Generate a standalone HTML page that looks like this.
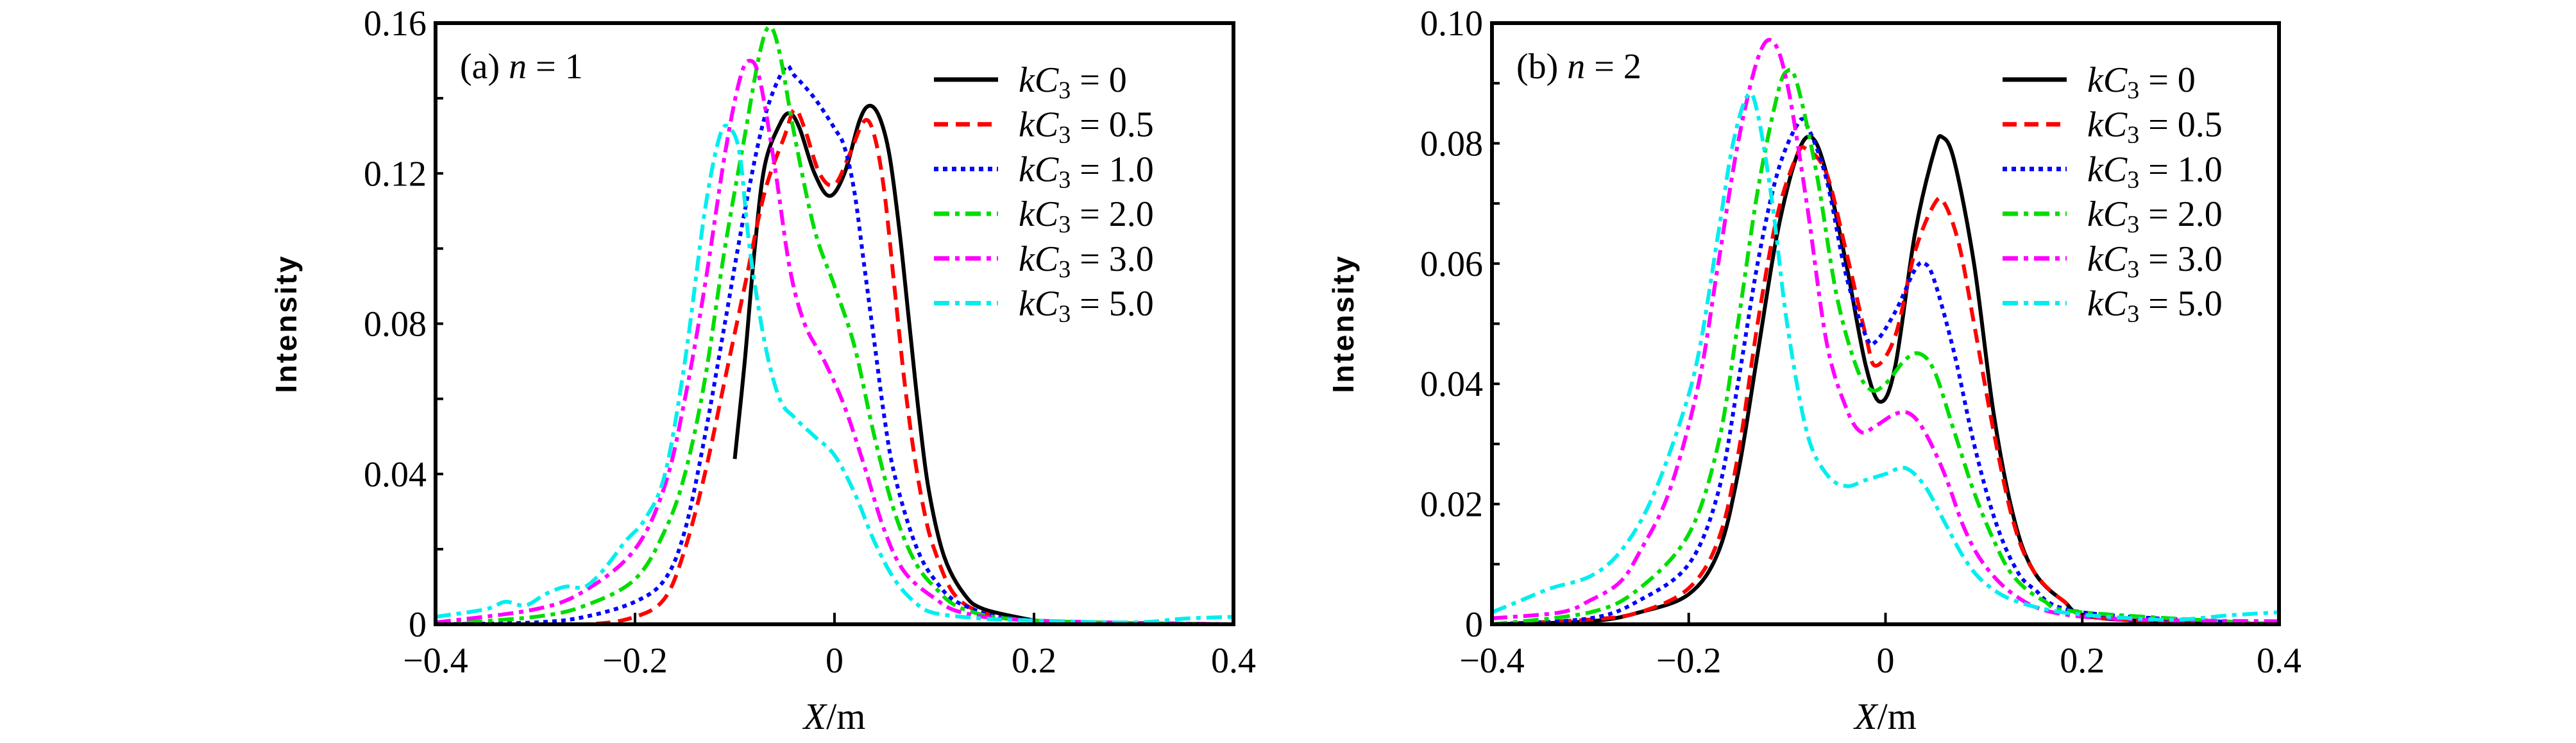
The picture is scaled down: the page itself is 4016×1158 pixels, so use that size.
<!DOCTYPE html>
<html><head><meta charset="utf-8"><style>
html,body{margin:0;padding:0;background:#fff;}
svg{display:block;}
text{font-family:"Liberation Serif",serif;fill:#000;}
</style></head><body>
<svg id="chart" width="4016" height="1158" viewBox="0 0 4016 1158" xmlns="http://www.w3.org/2000/svg"></svg>
<script>
const seriesLabels=["0","0.5","1.0","2.0","3.0","5.0"];
const xTicks=[-0.4,-0.2,0,0.2,0.4];
const yTicksA=[0,0.04,0.08,0.12,0.16];
const yTicksB=[0,0.02,0.04,0.06,0.08,0.10];
const a0=[[-0.1,0.044],[-0.09,0.07],[-0.08,0.1],[-0.07,0.122],[-0.055,0.133],[-0.045,0.136],[-0.035,0.132],[-0.02,0.12],[-0.005,0.114],[0.01,0.12],[0.025,0.134],[0.035,0.138],[0.045,0.135],[0.055,0.125],[0.065,0.105],[0.075,0.08],[0.085,0.055],[0.095,0.035],[0.11,0.018],[0.13,0.008],[0.15,0.004],[0.2,0.001]];
const a1=[[-0.37,0],[-0.25,0],[-0.2,0.002],[-0.17,0.007],[-0.15,0.02],[-0.13,0.04],[-0.11,0.065],[-0.09,0.09],[-0.07,0.115],[-0.05,0.13],[-0.04,0.137],[-0.03,0.132],[-0.015,0.12],[0,0.117],[0.015,0.125],[0.03,0.134],[0.04,0.13],[0.05,0.115],[0.06,0.09],[0.07,0.065],[0.08,0.045],[0.09,0.03],[0.1,0.02],[0.12,0.008],[0.15,0.003],[0.2,0.001],[0.37,0]];
const a2=[[-0.4,0],[-0.3,0.0005],[-0.25,0.002],[-0.2,0.006],[-0.17,0.012],[-0.15,0.025],[-0.13,0.05],[-0.11,0.08],[-0.09,0.11],[-0.07,0.135],[-0.05,0.148],[-0.04,0.146],[-0.02,0.14],[0,0.132],[0.01,0.127],[0.02,0.115],[0.03,0.095],[0.04,0.075],[0.05,0.055],[0.06,0.04],[0.08,0.022],[0.1,0.012],[0.13,0.005],[0.2,0.001],[0.4,0]];
const a3=[[-0.4,0],[-0.3,0.002],[-0.25,0.005],[-0.2,0.012],[-0.17,0.025],[-0.15,0.04],[-0.13,0.065],[-0.11,0.1],[-0.09,0.13],[-0.075,0.152],[-0.065,0.159],[-0.055,0.152],[-0.04,0.13],[-0.02,0.105],[0,0.09],[0.02,0.074],[0.04,0.05],[0.06,0.03],[0.08,0.017],[0.1,0.01],[0.13,0.004],[0.2,0.001],[0.4,0]];
const a4=[[-0.4,0.0005],[-0.3,0.004],[-0.25,0.009],[-0.2,0.02],[-0.17,0.037],[-0.15,0.06],[-0.13,0.09],[-0.11,0.125],[-0.095,0.145],[-0.085,0.15],[-0.075,0.145],[-0.06,0.122],[-0.045,0.095],[-0.03,0.08],[-0.01,0.07],[0.01,0.058],[0.03,0.042],[0.05,0.025],[0.07,0.014],[0.1,0.007],[0.13,0.003],[0.2,0.001],[0.4,0]];
const a5=[[-0.4,0.002],[-0.35,0.004],[-0.33,0.006],[-0.31,0.005],[-0.29,0.008],[-0.27,0.01],[-0.25,0.01],[-0.23,0.015],[-0.21,0.022],[-0.19,0.028],[-0.17,0.04],[-0.15,0.07],[-0.13,0.11],[-0.115,0.13],[-0.105,0.132],[-0.095,0.125],[-0.085,0.1],[-0.07,0.075],[-0.055,0.06],[-0.04,0.055],[-0.02,0.05],[0,0.045],[0.02,0.035],[0.04,0.022],[0.06,0.012],[0.08,0.006],[0.1,0.003],[0.15,0.0015],[0.2,0.001],[0.3,0.0005],[0.35,0.0015],[0.4,0.002]];
const b0=[[-0.4,0],[-0.3,0.0005],[-0.25,0.002],[-0.2,0.005],[-0.17,0.012],[-0.15,0.025],[-0.13,0.045],[-0.11,0.065],[-0.09,0.078],[-0.075,0.081],[-0.06,0.075],[-0.04,0.06],[-0.02,0.043],[-0.005,0.037],[0.01,0.043],[0.03,0.065],[0.05,0.079],[0.058,0.081],[0.07,0.077],[0.09,0.06],[0.11,0.035],[0.13,0.018],[0.15,0.009],[0.18,0.004],[0.22,0.001],[0.4,0]];
const b1=[[-0.4,0],[-0.3,0.0008],[-0.25,0.002],[-0.2,0.006],[-0.17,0.014],[-0.15,0.028],[-0.13,0.05],[-0.11,0.068],[-0.09,0.078],[-0.08,0.079],[-0.06,0.075],[-0.04,0.062],[-0.02,0.048],[-0.01,0.043],[0.01,0.048],[0.03,0.062],[0.05,0.07],[0.06,0.07],[0.075,0.063],[0.09,0.05],[0.11,0.032],[0.13,0.017],[0.15,0.009],[0.18,0.004],[0.22,0.001],[0.4,0]];
const b2=[[-0.4,0],[-0.3,0.001],[-0.25,0.004],[-0.2,0.01],[-0.17,0.022],[-0.15,0.04],[-0.13,0.06],[-0.11,0.075],[-0.09,0.083],[-0.08,0.083],[-0.06,0.074],[-0.04,0.058],[-0.02,0.048],[-0.01,0.047],[0.01,0.052],[0.03,0.059],[0.04,0.06],[0.05,0.057],[0.07,0.045],[0.09,0.03],[0.11,0.018],[0.13,0.01],[0.15,0.006],[0.2,0.002],[0.4,0]];
const b3=[[-0.4,0],[-0.3,0.002],[-0.25,0.006],[-0.2,0.015],[-0.17,0.03],[-0.15,0.05],[-0.13,0.072],[-0.11,0.088],[-0.1,0.092],[-0.09,0.09],[-0.07,0.075],[-0.05,0.055],[-0.03,0.043],[-0.015,0.039],[0,0.04],[0.02,0.044],[0.035,0.045],[0.05,0.042],[0.07,0.032],[0.09,0.022],[0.11,0.014],[0.13,0.008],[0.16,0.004],[0.2,0.002],[0.4,0]];
const b4=[[-0.4,0.001],[-0.33,0.002],[-0.3,0.004],[-0.27,0.007],[-0.25,0.012],[-0.22,0.022],[-0.19,0.04],[-0.17,0.06],[-0.15,0.08],[-0.13,0.094],[-0.115,0.097],[-0.1,0.09],[-0.08,0.07],[-0.06,0.047],[-0.04,0.036],[-0.025,0.032],[-0.01,0.033],[0.01,0.035],[0.025,0.035],[0.04,0.032],[0.06,0.025],[0.08,0.016],[0.1,0.01],[0.13,0.005],[0.17,0.002],[0.25,0.0008],[0.4,0.0005]];
const b5=[[-0.4,0.002],[-0.37,0.004],[-0.34,0.006],[-0.3,0.008],[-0.27,0.012],[-0.24,0.02],[-0.21,0.033],[-0.19,0.045],[-0.17,0.065],[-0.155,0.08],[-0.14,0.088],[-0.13,0.085],[-0.115,0.07],[-0.1,0.05],[-0.08,0.032],[-0.06,0.025],[-0.04,0.023],[-0.02,0.024],[0,0.025],[0.02,0.026],[0.04,0.023],[0.06,0.017],[0.08,0.011],[0.1,0.007],[0.13,0.004],[0.18,0.002],[0.25,0.001],[0.3,0.0008],[0.35,0.0015],[0.4,0.002]];

const NS="http://www.w3.org/2000/svg";
const svg=document.getElementById('chart');
const colors=["#000","#f00","#00f","#0d0","#f0f","#0ee"];
const dashes=["","22,12","7,7","24,9,7,9","24,9,7,9","24,9,7,9"];
function mk(tag,parent){const e=document.createElementNS(NS,tag);parent.appendChild(e);return e;}
function smoothPath(pts){
  let d='M'+pts[0][0].toFixed(1)+','+pts[0][1].toFixed(1);
  for(let i=0;i<pts.length-1;i++){
    const p0=pts[Math.max(i-1,0)],p1=pts[i],p2=pts[i+1],p3=pts[Math.min(i+2,pts.length-1)];
    const c1x=p1[0]+(p2[0]-p0[0])/6,c1y=p1[1]+(p2[1]-p0[1])/6;
    const c2x=p2[0]-(p3[0]-p1[0])/6,c2y=p2[1]-(p3[1]-p1[1])/6;
    d+=' C'+c1x.toFixed(1)+','+c1y.toFixed(1)+' '+c2x.toFixed(1)+','+c2y.toFixed(1)+' '+p2[0].toFixed(1)+','+p2[1].toFixed(1);
  }
  return d;
}

function panel(key,L,R,T,B,ymax,yTicks,minorStep,series,tag,yTitleX){
  const g=mk('g',svg);
  
  
  const sx=v=>L+(v+0.4)/0.8*(R-L);
  const sy=v=>B-v/ymax*(B-T);
  const clip=mk('clipPath',g);clip.setAttribute('id','clip'+key);
  const cr=mk('rect',clip);cr.setAttribute('x',L);cr.setAttribute('y',T);cr.setAttribute('width',R-L);cr.setAttribute('height',B-T);
  series.forEach((s,i)=>{
    const p=mk('path',g);
    
    
    p.setAttribute('d',smoothPath(s.map(d=>[sx(d[0]),sy(d[1])])));
    p.setAttribute('fill','none');p.setAttribute('stroke',colors[i]);p.setAttribute('stroke-width','6');
    p.setAttribute('stroke-linejoin','round');
    if(dashes[i])p.setAttribute('stroke-dasharray',dashes[i]);
    p.setAttribute('clip-path','url(#clip'+key+')');
  });
  const fr=mk('rect',g);
  
  
  fr.setAttribute('x',L);fr.setAttribute('y',T);fr.setAttribute('width',R-L);fr.setAttribute('height',B-T);
  fr.setAttribute('fill','none');fr.setAttribute('stroke','#000');fr.setAttribute('stroke-width','6');
  xTicks.forEach(v=>{
    const t=mk('line',g);
    
    
    t.setAttribute('x1',sx(v));t.setAttribute('x2',sx(v));t.setAttribute('y1',B);t.setAttribute('y2',B-18);t.setAttribute('stroke','#000');t.setAttribute('stroke-width','4');
    const tx=mk('text',g);
    
    
    tx.setAttribute('x',sx(v));tx.setAttribute('y',1048);tx.setAttribute('text-anchor','middle');tx.setAttribute('font-size','56');
    tx.textContent=(v<0?'\u2212':'')+(v===0?'0':Math.abs(v).toFixed(1));
  });
  for(let v=minorStep;v<ymax-1e-9;v+=minorStep){
    const t=mk('line',g);
    
    
    t.setAttribute('x1',L);t.setAttribute('x2',L+12);t.setAttribute('y1',sy(v));t.setAttribute('y2',sy(v));t.setAttribute('stroke','#000');t.setAttribute('stroke-width','4');
  }
  yTicks.forEach(v=>{
    const tx=mk('text',g);
    
    
    tx.setAttribute('x',L-14);tx.setAttribute('y',sy(v)+19);tx.setAttribute('text-anchor','end');tx.setAttribute('font-size','56');
    tx.textContent=v===0?'0':v.toFixed(2);
  });
  const xt=mk('text',g);
  
  
  xt.setAttribute('x',sx(0));xt.setAttribute('y',1136);xt.setAttribute('text-anchor','middle');xt.setAttribute('font-size','58');
  xt.innerHTML='<tspan font-style="italic">X</tspan>/m';
  const yt=mk('text',g);
  
  
  yt.setAttribute('transform','translate('+yTitleX+','+((T+B)/2)+') rotate(-90)');
  yt.setAttribute('text-anchor','middle');yt.setAttribute('font-size','46');yt.setAttribute('font-weight','bold');
  yt.setAttribute('style','font-family:"Liberation Sans",sans-serif;letter-spacing:3px');
  yt.textContent='Intensity';
  const pl=mk('text',g);
  
  
  pl.setAttribute('x',L+38);pl.setAttribute('y',122);pl.setAttribute('font-size','56');
  pl.innerHTML=tag;
  const lx=key==='a'?1456:3122;
  seriesLabels.forEach((lab,i)=>{
    const y=124+i*69.7;
    const ll=mk('line',g);
    
    
    ll.setAttribute('x1',lx);ll.setAttribute('x2',lx+100);ll.setAttribute('y1',y);ll.setAttribute('y2',y);
    ll.setAttribute('stroke',colors[i]);ll.setAttribute('stroke-width','7');
    if(dashes[i])ll.setAttribute('stroke-dasharray',dashes[i]);
    const lt=mk('text',g);
    
    
    lt.setAttribute('x',lx+132);lt.setAttribute('y',y+19);lt.setAttribute('font-size','56');
    lt.innerHTML='<tspan font-style="italic">kC</tspan><tspan font-size="38" dy="10">3</tspan><tspan dy="-10"> = '+lab+'</tspan>';
  });
}
panel('a',679,1923,36,973,0.16,yTicksA,0.02,[a0,a1,a2,a3,a4,a5],'(a) <tspan font-style="italic">n</tspan> = 1',462);
panel('b',2326,3553,36,973,0.10,yTicksB,0.01,[b0,b1,b2,b3,b4,b5],'(b) <tspan font-style="italic">n</tspan> = 2',2110);
</script>
</body></html>
